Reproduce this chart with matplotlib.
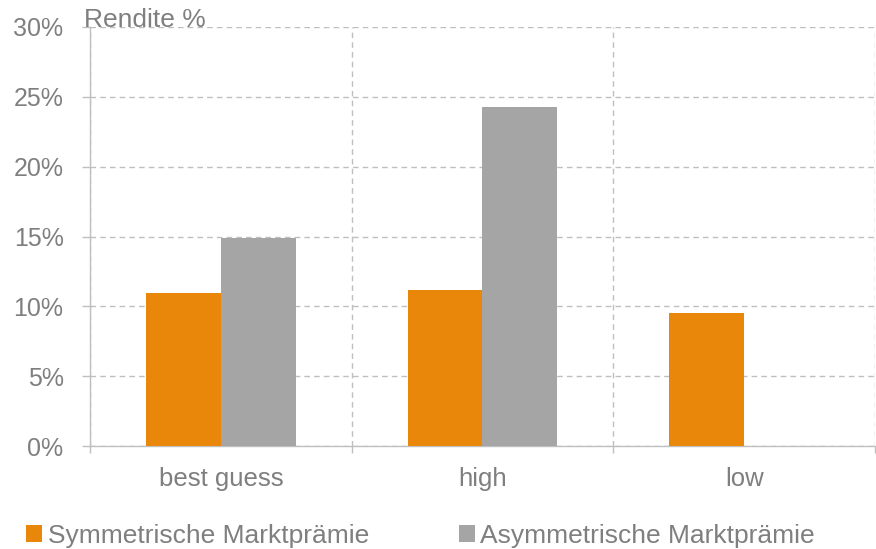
import numpy as np
import matplotlib.pyplot as plt
from matplotlib.ticker import FixedLocator

# Daten
kategorien = ['best guess', 'high', 'low']
symmetrisch = [10.95, 11.2, 9.5]
asymmetrisch = [14.9, 24.3, 0.0]
y_ticks = [0, 5, 10, 15, 20, 25, 30]

orange = '#E8870A'
grau = '#A5A5A5'
text_farbe = '#7F7F7F'
linien_farbe = '#BFBFBF'

plt.rcParams['font.family'] = ['Liberation Sans', 'DejaVu Sans']

fig = plt.figure(figsize=(8.76, 5.49), dpi=100)
ax = fig.add_axes([90 / 876, 1 - 446 / 549, 785 / 876, (446 - 27) / 549])

x = np.arange(len(kategorien))
breite = 0.286
ax.bar(x - breite / 2, symmetrisch, breite, color=orange, label='Symmetrische Marktprämie', zorder=3)
ax.bar(x + breite / 2, asymmetrisch, breite, color=grau, label='Asymmetrische Marktprämie', zorder=3)

ax.set_xlim(-0.5, len(kategorien) - 0.5)
ax.set_ylim(0, 30)

ax.set_yticks(y_ticks)
ax.set_yticklabels([f'{t}%' for t in y_ticks])
ax.set_xticks(x)
ax.set_xticklabels(kategorien)
ax.xaxis.set_minor_locator(FixedLocator(np.arange(-0.5, len(kategorien), 1.0)))

ax.tick_params(axis='y', length=6, width=1, color=linien_farbe, pad=13,
               labelsize=18, labelcolor=text_farbe)
ax.tick_params(axis='x', which='major', length=0, pad=15,
               labelsize=18.5, labelcolor=text_farbe)
ax.tick_params(axis='x', which='minor', length=5, width=1, color=linien_farbe)

# Gitterlinien gestrichelt
ax.grid(axis='y', linestyle=(0, (4, 3)), color=linien_farbe, linewidth=1, zorder=0)
ax.grid(axis='x', which='minor', linestyle=(0, (4, 3)), color=linien_farbe, linewidth=1, zorder=0)

for seite in ['top', 'right']:
    ax.spines[seite].set_visible(False)
for seite in ['left', 'bottom']:
    ax.spines[seite].set_color(linien_farbe)
    ax.spines[seite].set_linewidth(1)

fig.text(84 / 876, 1 - 20 / 549, 'Rendite %', fontsize=19, color=text_farbe, va='center', ha='left')

fig.legend(loc='center left', bbox_to_anchor=(26 / 876, 1 - 536 / 549), ncol=2,
           frameon=False, fontsize=19, labelcolor=text_farbe,
           handlelength=0.62, handleheight=0.62, handletextpad=0.2,
           columnspacing=3.4, borderpad=0, borderaxespad=0)

plt.savefig('out.png', dpi=100)
